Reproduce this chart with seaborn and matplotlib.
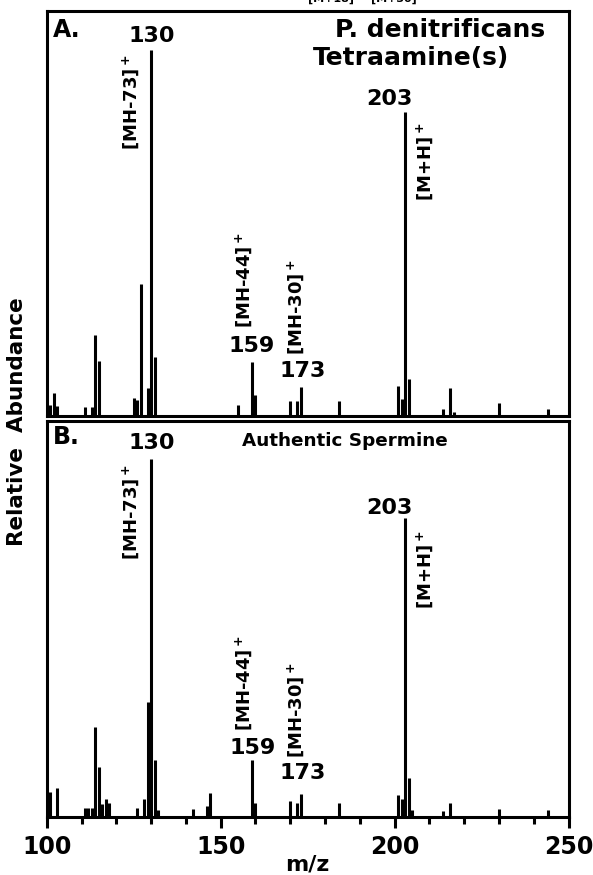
import matplotlib
matplotlib.use("Agg")
import matplotlib.pyplot as plt
import seaborn as sns

# peak lists (m/z, relative abundance, 130 = 100)
a_mz = [101, 102, 103, 111, 113, 114, 115, 125, 126, 127, 129, 130, 131,
        155, 159, 160, 170, 172, 173, 184, 201, 202, 203, 204, 214, 216, 217, 230, 244]
a_int = [3, 6.3, 2.7, 2.5, 2.5, 22, 15, 5, 4.4, 36, 7.5, 100, 16,
         3, 14.6, 5.8, 4, 4, 7.8, 4, 8.3, 4.5, 83, 10, 2, 7.5, 1, 3.6, 2]

b_mz = [101, 103, 111, 112, 113, 114, 115, 116, 117, 118, 126, 128, 129, 130, 131, 132,
        142, 146, 147, 159, 160, 170, 172, 173, 184, 201, 202, 203, 204, 205, 214, 216, 230, 244]
b_int = [7, 8, 2.5, 2.5, 2.5, 25, 14, 3.6, 5, 4, 2.5, 5, 32, 100, 16, 2,
         2.3, 3, 6.7, 16, 4, 4.5, 3.9, 6.4, 4, 6, 5, 83.5, 11, 2, 1.7, 4, 2.2, 2]

x_major = [100, 150, 200, 250]
x_minor = list(range(100, 251, 10))

sns.set_theme(style="white")
plt.rcParams['font.family'] = ['DejaVu Sans']
plt.rcParams['font.weight'] = 'bold'
plt.rcParams['mathtext.default'] = 'bf'
plt.rcParams['text.color'] = 'black'
plt.rcParams['xtick.color'] = 'black'
plt.rcParams['axes.labelcolor'] = 'black'

fig, (ax_a, ax_b) = plt.subplots(2, 1, figsize=(5.93, 8.75), dpi=100)
ax_a.set_position([0.0788, 0.5246, 0.880, 0.4628])
ax_b.set_position([0.0788, 0.0663, 0.880, 0.4526])

for ax, mz, inten in [(ax_a, a_mz, a_int), (ax_b, b_mz, b_int)]:
    ax.vlines(mz, 0, inten, color='black', lw=2.2, capstyle='butt')
    ax.set_xlim(100, 250)
    ax.set_ylim(0, 110.5)
    ax.set_yticks([])
    for s in ax.spines.values():
        s.set_color('black')
        s.set_linewidth(2.2)

ax_a.set_xticks([])
ax_b.set_xticks(x_major)
ax_b.set_xticks(x_minor, minor=True)
ax_b.tick_params(axis='x', which='major', direction='out', length=8, width=2.2,
                 color='black', labelsize=17, pad=5, bottom=True)
ax_b.tick_params(axis='x', which='minor', direction='out', length=5, width=2.2,
                 color='black', bottom=True)
ax_b.set_xticklabels([str(v) for v in x_major], fontweight='bold')
ax_b.set_xlabel('m/z', fontsize=16, fontweight='bold', labelpad=-3)

num = dict(fontsize=16, fontweight='bold', ha='center', va='center')
ion = dict(fontsize=13, fontweight='bold', ha='center', va='center', rotation=90)

# panel A
ax_a.text(101.8, 105.3, 'A.', fontsize=17, fontweight='bold', ha='left', va='center')
ax_a.text(130.3, 103.7, '130', **num)
ax_a.text(213.0, 105.3, 'P. denitrificans', fontsize=18, fontweight='bold', ha='center', va='center')
ax_a.text(204.6, 97.8, 'Tetraamine(s)', fontsize=18, fontweight='bold', ha='center', va='center')
ax_a.text(124.2, 85.7, '[MH-73]$^+$', **ion)
ax_a.text(198.6, 86.5, '203', **num)
ax_a.text(208.5, 69.3, '[M+H]$^+$', **ion)
ax_a.text(156.7, 37.1, '[MH-44]$^+$', **ion)
ax_a.text(159.0, 19.0, '159', **num)
ax_a.text(171.5, 29.7, '[MH-30]$^+$', **ion)
ax_a.text(173.5, 12.4, '173', **num)

# panel B
ax_b.text(101.8, 106.0, 'B.', fontsize=17, fontweight='bold', ha='left', va='center')
ax_b.text(130.3, 104.4, '130', **num)
ax_b.text(185.8, 104.9, 'Authentic Spermine', fontsize=13.2, fontweight='bold', ha='center', va='center')
ax_b.text(124.2, 85.1, '[MH-73]$^+$', **ion)
ax_b.text(198.6, 86.2, '203', **num)
ax_b.text(208.5, 68.9, '[M+H]$^+$', **ion)
ax_b.text(156.7, 37.4, '[MH-44]$^+$', **ion)
ax_b.text(159.2, 19.3, '159', **num)
ax_b.text(171.5, 29.9, '[MH-30]$^+$', **ion)
ax_b.text(173.5, 12.3, '173', **num)

fig.text(0.0295, 0.5177, 'Relative  Abundance', fontsize=15.5, fontweight='bold',
         rotation=90, ha='center', va='center')

# cut-off labels from the figure above
fig.text(0.558, 0.9955, '[M+18]', fontsize=8, fontweight='bold', ha='center', va='bottom')
fig.text(0.665, 0.9955, '[M+30]', fontsize=8, fontweight='bold', ha='center', va='bottom')

fig.savefig('out.png', dpi=100, facecolor='white')
